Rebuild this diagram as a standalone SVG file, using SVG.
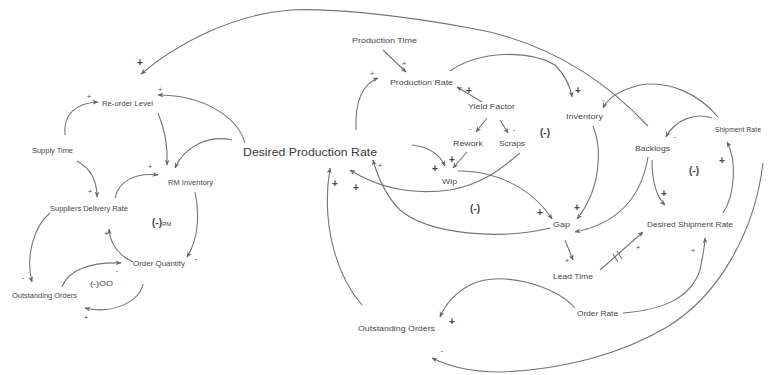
<svg xmlns="http://www.w3.org/2000/svg" width="769" height="375" viewBox="0 0 769 375">
<style>
.n{font-family:"Liberation Sans",Arial,sans-serif;font-size:8px;fill:#474747}
.big{font-family:"Liberation Sans",Arial,sans-serif;font-size:11.5px;fill:#3a3a3a}
.s{font-family:"Liberation Sans",Arial,sans-serif;font-size:10px;font-weight:bold;fill:#444;text-anchor:middle;dominant-baseline:central}
.m{font-family:"Liberation Sans",Arial,sans-serif;font-size:8px;fill:#555;text-anchor:middle;dominant-baseline:central}
.l{font-family:"Liberation Sans",Arial,sans-serif;font-size:10px;font-weight:bold;fill:#444}
.c{fill:none;stroke:#747474;stroke-width:1.1;marker-end:url(#a)}
.d{fill:none;stroke:#747474;stroke-width:1.1}
</style>
<defs>
<marker id="a" viewBox="0 0 10 10" refX="9" refY="5" markerWidth="6" markerHeight="6" orient="auto" markerUnits="userSpaceOnUse">
<path d="M0,1 L10,5 L0,9 L3,5 z" fill="#666"/>
</marker>
</defs>
<rect width="769" height="375" fill="#fff"/>
<g id="connectors">
<path class="c" d="M648,126 C600,75 540,40 470,28 C400,15 330,8 290,10 C230,15 175,45 141,74"/>
<path class="c" d="M245,143 C238,118 205,95 158,95"/>
<path class="c" d="M65,135 C63,115 75,103 98,102"/>
<path class="c" d="M158,113 C165,130 168,148 167,165"/>
<path class="c" d="M232,140 C210,135 185,145 175,168"/>
<path class="c" d="M77,161 C90,168 97,180 97,197"/>
<path class="c" d="M115,198 C118,182 135,172 158,175"/>
<path class="c" d="M195,192 C200,215 198,240 187,257"/>
<path class="c" d="M133,262 C118,255 110,243 109,229"/>
<path class="c" d="M50,213 C35,225 25,255 32,282"/>
<path class="c" d="M62,287 C68,270 90,262 121,263"/>
<path class="c" d="M143,284 C140,300 115,315 85,308"/>
<path class="c" d="M383,50 L406,72"/>
<path class="c" d="M356,130 C355,105 360,85 378,78"/>
<path class="c" d="M482,102 L457,87"/>
<path class="c" d="M450,71 C480,50 530,50 555,65 C565,75 570,85 572,97"/>
<path class="c" d="M487,118 L476,132"/>
<path class="c" d="M500,120 L508,133"/>
<path class="c" d="M467,152 L453,168"/>
<path class="c" d="M412,145 C430,147 440,155 445,166"/>
<path class="c" d="M520,153 C500,170 480,185 450,190 C420,194 385,192 350,170"/>
<path class="c" d="M458,171 C490,170 530,185 552,219"/>
<path class="c" d="M550,228 C500,240 430,235 400,210 C385,195 378,178 373,160"/>
<path class="c" d="M362,305 C340,280 320,230 330,168"/>
<path class="c" d="M593,126 C603,150 600,190 577,219"/>
<path class="c" d="M648,157 C640,205 610,225 575,232"/>
<path class="c" d="M652,160 C652,180 655,195 665,205"/>
<path class="c" d="M712,118 C695,112 675,120 666,137"/>
<path class="c" d="M718,117 C700,95 670,80 640,85 C620,90 608,98 603,108"/>
<path class="c" d="M723,213 C735,195 737,160 727,142"/>
<path class="c" d="M565,240 L573,260"/>
<path class="c" d="M600,270 L643,232"/>
<path class="d" d="M613,254 L618,262 M617,251 L622,259"/>
<path class="c" d="M623,313 C660,310 690,300 700,270 C703,255 705,245 705,238"/>
<path class="c" d="M575,308 C555,285 500,270 470,285 C455,293 445,305 440,317"/>
<path class="c" d="M763,163 C755,230 720,295 667,327 C620,355 560,370 500,372 C470,372 450,367 432,358"/>
</g>
<g id="node-reorder-level"><text class="n" x="102" y="106" textLength="51" lengthAdjust="spacingAndGlyphs">Re-order Level</text></g>
<g id="node-supply-time"><text class="n" x="32" y="153" textLength="41" lengthAdjust="spacingAndGlyphs">Supply Time</text></g>
<g id="node-rm-inventory"><text class="n" x="168" y="185" textLength="45" lengthAdjust="spacingAndGlyphs">RM Inventory</text></g>
<g id="node-suppliers-delivery-rate"><text class="n" x="50" y="211" textLength="78" lengthAdjust="spacingAndGlyphs">Suppliers Delivery Rate</text></g>
<g id="node-order-quantity"><text class="n" x="133" y="266" textLength="52" lengthAdjust="spacingAndGlyphs">Order Quantity</text></g>
<g id="node-outstanding-orders-left"><text class="n" x="12" y="298" textLength="65" lengthAdjust="spacingAndGlyphs">Outstanding Orders</text></g>
<g id="node-desired-production-rate"><text class="big" x="243" y="156" textLength="134" lengthAdjust="spacingAndGlyphs">Desired Production Rate</text></g>
<g id="node-production-time"><text class="n" x="352" y="43" textLength="65" lengthAdjust="spacingAndGlyphs">Production Time</text></g>
<g id="node-production-rate"><text class="n" x="390" y="85" textLength="63" lengthAdjust="spacingAndGlyphs">Production Rate</text></g>
<g id="node-yield-factor"><text class="n" x="468" y="109" textLength="47" lengthAdjust="spacingAndGlyphs">Yield Factor</text></g>
<g id="node-rework"><text class="n" x="453" y="146" textLength="30" lengthAdjust="spacingAndGlyphs">Rework</text></g>
<g id="node-scraps"><text class="n" x="499" y="146" textLength="26" lengthAdjust="spacingAndGlyphs">Scraps</text></g>
<g id="node-wip"><text class="n" x="442" y="184" textLength="15" lengthAdjust="spacingAndGlyphs">Wip</text></g>
<g id="node-inventory"><text class="n" x="566" y="119" textLength="37" lengthAdjust="spacingAndGlyphs">Inventory</text></g>
<g id="node-backlogs"><text class="n" x="635" y="151" textLength="35" lengthAdjust="spacingAndGlyphs">Backlogs</text></g>
<g id="node-shipment-rate"><text class="n" x="715" y="132" textLength="46" lengthAdjust="spacingAndGlyphs">Shipment Rate</text></g>
<g id="node-gap"><text class="n" x="553" y="227" textLength="17" lengthAdjust="spacingAndGlyphs">Gap</text></g>
<g id="node-desired-shipment-rate"><text class="n" x="647" y="227" textLength="86" lengthAdjust="spacingAndGlyphs">Desired Shipment Rate</text></g>
<g id="node-lead-time"><text class="n" x="553" y="279" textLength="40" lengthAdjust="spacingAndGlyphs">Lead Time</text></g>
<g id="node-order-rate"><text class="n" x="577" y="316" textLength="41" lengthAdjust="spacingAndGlyphs">Order Rate</text></g>
<g id="node-outstanding-orders-right"><text class="n" x="358" y="331" textLength="77" lengthAdjust="spacingAndGlyphs">Outstanding Orders</text></g>
<g id="loop-labels">
<text class="l" x="152" y="226">(-)<tspan font-size="6" font-weight="normal">RM</tspan></text>
<text class="n" x="90" y="286" textLength="23" lengthAdjust="spacingAndGlyphs">(-)OO</text>
<text class="l" x="540" y="136">(-)</text>
<text class="l" x="689" y="174">(-)</text>
<text class="l" x="470" y="212">(-)</text>
</g>
<g id="signs">
<text class="s" x="140" y="62">+</text>
<text class="m" x="160" y="89">+</text>
<text class="m" x="89" y="96">+</text>
<text class="m" x="90" y="191">+</text>
<text class="m" x="150" y="166">+</text>
<text class="m" x="196" y="258">-</text>
<text class="m" x="106" y="233">+</text>
<text class="m" x="23" y="277">-</text>
<text class="m" x="117" y="270">-</text>
<text class="m" x="86" y="317">+</text>
<text class="m" x="404" y="63">+</text>
<text class="m" x="372" y="73">+</text>
<text class="s" x="469" y="90">+</text>
<text class="s" x="578" y="90">+</text>
<text class="m" x="470" y="128">-</text>
<text class="m" x="514" y="129">-</text>
<text class="s" x="452" y="159">+</text>
<text class="s" x="435" y="168">+</text>
<text class="s" x="356" y="187">+</text>
<text class="s" x="335" y="183">+</text>
<text class="m" x="380" y="165">+</text>
<text class="s" x="540" y="212">+</text>
<text class="s" x="577" y="207">+</text>
<text class="m" x="587" y="227">-</text>
<text class="s" x="664" y="193">+</text>
<text class="m" x="675" y="136">-</text>
<text class="m" x="603" y="99">-</text>
<text class="s" x="722" y="160">+</text>
<text class="m" x="567" y="260">+</text>
<text class="m" x="638" y="247">+</text>
<text class="m" x="693" y="250">+</text>
<text class="s" x="452" y="321">+</text>
<text class="m" x="442" y="350">-</text>
</g>
</svg>
